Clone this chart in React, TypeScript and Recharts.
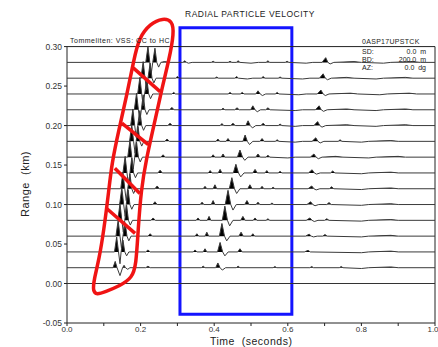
import {
  ComposedChart,
  Line,
  Area,
  XAxis,
  YAxis,
  ReferenceLine,
  ReferenceArea,
} from "recharts";

// trace baselines (km)
const ranges = [0.02, 0.04, 0.06, 0.08, 0.1, 0.12, 0.14, 0.16, 0.18, 0.2, 0.22, 0.24, 0.26, 0.28];

// picked wiggles per trace: [time (s), amplitude (m)]
const trace02 = [[0,0],[0.125,0],[0.131,8],[0.136,0],[0.144,-10],[0.151,0],[0.155,3],[0.159,0],[0.165,-2],[0.171,0],[0.214,0],[0.22,2],[0.226,0],[0.365,0],[0.37,2],[0.375,0],[0.404,0],[0.41,6],[0.416,0],[0.422,-3],[0.431,0],[0.46,0],[0.465,2],[0.47,0],[0.56,0],[0.565,1.5],[0.57,0],[0.66,0],[0.665,1.5],[0.67,0],[0.74,0],[0.745,1.5],[0.75,0],[0.8,-1],[0.82,0],[0.88,1],[0.9,0],[1,0]];
const trace04 = [[0,0],[0.129,0],[0.135,19],[0.14,0],[0.144,-15],[0.147,0],[0.152,15],[0.157,0],[0.162,-5],[0.168,0],[0.214,0],[0.22,2.5],[0.226,0],[0.343,0],[0.348,2.5],[0.353,0],[0.37,0],[0.375,4],[0.38,0],[0.409,0],[0.416,12],[0.423,0],[0.429,-5],[0.438,0],[0.464,0],[0.47,4],[0.476,0],[0.645,0],[0.655,2],[0.661,0],[0.8,-1],[0.82,0],[0.88,1],[0.9,0],[1,0]];
const trace06 = [[0,0],[0.133,0],[0.139,20],[0.144,0],[0.148,-15],[0.152,0],[0.158,17],[0.163,0],[0.168,-6],[0.174,0],[0.22,0],[0.226,3],[0.232,0],[0.348,0],[0.353,3],[0.358,0],[0.375,0],[0.38,5],[0.385,0],[0.414,0],[0.421,16],[0.428,0],[0.434,-6],[0.443,0],[0.467,0],[0.473,5],[0.479,0],[0.5,0],[0.505,3],[0.51,0],[0.648,0],[0.658,2.5],[0.664,0],[0.67,-1],[0.68,0],[0.695,0],[0.701,2],[0.707,0],[0.8,-1],[0.82,0],[0.88,1],[0.9,0],[1,0]];
const trace08 = [[0,0],[0.138,0],[0.144,21],[0.149,0],[0.153,-15],[0.157,0],[0.162,19],[0.167,0],[0.172,-6],[0.178,0],[0.228,0],[0.234,3],[0.24,0],[0.351,0],[0.356,3],[0.361,0],[0.381,0],[0.386,5],[0.391,0],[0.422,0],[0.429,18],[0.436,0],[0.442,-7],[0.451,0],[0.472,0],[0.478,5],[0.484,0],[0.506,0],[0.511,3],[0.516,0],[0.541,0],[0.546,2],[0.551,0],[0.65,0],[0.66,3],[0.666,0],[0.672,-1.5],[0.682,0],[0.7,0],[0.706,2],[0.712,0],[0.8,-1],[0.82,0],[0.88,1],[0.9,0],[1,0]];
const trace10 = [[0,0],[0.143,0],[0.149,21],[0.154,0],[0.158,-15],[0.161,0],[0.166,19],[0.171,0],[0.176,-6],[0.182,0],[0.233,0],[0.239,3.5],[0.245,0],[0.362,0],[0.367,3],[0.372,0],[0.392,0],[0.397,5],[0.402,0],[0.43,0],[0.4375,18],[0.445,0],[0.451,-7],[0.46,0],[0.483,0],[0.489,5],[0.495,0],[0.514,0],[0.519,3],[0.524,0],[0.552,0],[0.557,2],[0.562,0],[0.652,0],[0.662,3.5],[0.668,0],[0.674,-1.5],[0.684,0],[0.706,0],[0.712,2.5],[0.718,0],[0.8,-1],[0.82,0],[0.88,1],[0.9,0],[1,0]];
const trace12 = [[0,0],[0.146,0],[0.152,21],[0.157,0],[0.161,-15],[0.165,0],[0.171,19],[0.176,0],[0.181,-6],[0.187,0],[0.239,0],[0.245,3.5],[0.251,0],[0.37,0],[0.375,3],[0.38,0],[0.397,0],[0.402,5],[0.407,0],[0.441,0],[0.448,14],[0.455,0],[0.461,-6],[0.47,0],[0.491,0],[0.497,5],[0.503,0],[0.525,0],[0.53,3],[0.535,0],[0.555,0],[0.56,2],[0.565,0],[0.655,0],[0.665,3.5],[0.671,0],[0.677,-1.5],[0.687,0],[0.713,0],[0.719,2.5],[0.725,0],[0.8,-1],[0.82,0],[0.88,1],[0.9,0],[1,0]];
const trace14 = [[0,0],[0.152,0],[0.158,21],[0.163,0],[0.167,-15],[0.171,0],[0.176,19],[0.181,0],[0.186,-6],[0.192,0],[0.247,0],[0.253,3.5],[0.259,0],[0.384,0],[0.389,3],[0.394,0],[0.411,0],[0.416,4.5],[0.421,0],[0.452,0],[0.459,11],[0.466,0],[0.472,-5],[0.481,0],[0.505,0],[0.511,4.5],[0.517,0],[0.538,0],[0.543,3],[0.548,0],[0.574,0],[0.579,2],[0.584,0],[0.656,0],[0.666,4],[0.672,0],[0.678,-1.5],[0.688,0],[0.716,0],[0.722,2.5],[0.728,0],[0.8,-1],[0.82,0],[0.88,1],[0.9,0],[1,0]];
const trace16 = [[0,0],[0.165,0],[0.171,21],[0.176,0],[0.18,-15],[0.184,0],[0.189,19],[0.194,0],[0.199,-6],[0.205,0],[0.255,0],[0.261,3],[0.267,0],[0.392,0],[0.397,3],[0.402,0],[0.419,0],[0.424,4],[0.429,0],[0.463,0],[0.47,9],[0.477,0],[0.483,-4],[0.492,0],[0.513,0],[0.519,4],[0.525,0],[0.541,0],[0.546,2.5],[0.551,0],[0.6,-1],[0.62,0],[0.661,0],[0.671,4],[0.677,0],[0.683,-2],[0.693,0],[0.73,1],[0.75,0],[0.82,-1],[0.84,0],[0.9,1],[0.92,0],[1,0]];
const trace18 = [[0,0],[0.17,0],[0.176,21],[0.181,0],[0.185,-15],[0.188,0],[0.193,19],[0.198,0],[0.203,-6],[0.209,0],[0.266,0],[0.272,3],[0.278,0],[0.405,0],[0.41,3],[0.415,0],[0.432,0],[0.4375,3.5],[0.443,0],[0.478,0],[0.484,8],[0.49,0],[0.496,-4],[0.505,0],[0.524,0],[0.53,3.5],[0.536,0],[0.566,0],[0.571,2],[0.576,0],[0.62,-1],[0.64,0],[0.666,0],[0.676,4.5],[0.682,0],[0.688,-2],[0.698,0],[0.737,0],[0.742,2],[0.747,0],[0.8,-1],[0.82,0],[0.88,1],[0.9,0],[1,0]];
const trace20 = [[0,0],[0.173,0],[0.179,21],[0.184,0],[0.188,-15],[0.192,0],[0.198,19],[0.203,0],[0.208,-6],[0.214,0],[0.274,0],[0.28,3],[0.286,0],[0.416,0],[0.421,2.5],[0.426,0],[0.445,0],[0.451,3],[0.457,0],[0.486,0],[0.492,6],[0.498,0],[0.504,-3],[0.513,0],[0.527,0],[0.533,3],[0.539,0],[0.574,0],[0.579,2],[0.584,0],[0.62,-1],[0.64,0],[0.671,0],[0.681,5],[0.687,0],[0.693,-2],[0.703,0],[0.76,1],[0.78,0],[0.84,-1],[0.86,0],[0.92,1],[0.94,0],[1,0]];
const trace22 = [[0,0],[0.183,0],[0.189,21],[0.194,0],[0.198,-15],[0.202,0],[0.207,19],[0.212,0],[0.217,-6],[0.223,0],[0.279,0],[0.285,3],[0.291,0],[0.419,0],[0.424,2],[0.429,0],[0.456,0],[0.462,2.5],[0.468,0],[0.499,0],[0.505,5],[0.511,0],[0.517,-2.5],[0.526,0],[0.54,0],[0.546,2.5],[0.552,0],[0.62,-1],[0.64,0],[0.675,0],[0.685,5],[0.691,0],[0.697,-2],[0.707,0],[0.76,1],[0.78,0],[0.84,-1],[0.86,0],[0.92,1],[0.94,0],[1,0]];
const trace24 = [[0,0],[0.192,0],[0.198,21],[0.203,0],[0.207,-15],[0.211,0],[0.217,19],[0.222,0],[0.227,-6],[0.233,0],[0.285,0],[0.29,2],[0.295,0],[0.438,0],[0.443,2],[0.448,0],[0.471,0],[0.476,2],[0.481,0],[0.513,0],[0.519,4],[0.525,0],[0.531,-2],[0.54,0],[0.566,0],[0.571,2],[0.576,0],[0.63,-1],[0.65,0],[0.68,0],[0.69,5],[0.696,0],[0.702,-2],[0.712,0],[0.77,1],[0.79,0],[0.85,-1],[0.87,0],[0.93,1],[0.95,0],[1,0]];
const trace26 = [[0,0],[0.201,0],[0.207,21],[0.212,0],[0.216,-15],[0.22,0],[0.226,19],[0.231,0],[0.236,-6],[0.242,0],[0.295,0],[0.3,2],[0.305,0],[0.402,0],[0.407,1.5],[0.412,0],[0.456,0],[0.461,2],[0.466,0],[0.49,-1],[0.505,0],[0.528,0],[0.533,2],[0.538,0],[0.574,0],[0.579,1.5],[0.584,0],[0.64,-1],[0.66,0],[0.686,0],[0.696,5.5],[0.702,0],[0.708,-2],[0.718,0],[0.76,1],[0.78,0],[0.84,-1],[0.86,0],[0.92,1],[0.94,0],[1,0]];
const trace28 = [[0,0],[0.214,0],[0.22,20],[0.225,0],[0.229,-14],[0.233,0],[0.239,18],[0.244,0],[0.249,-6],[0.255,0],[0.265,1],[0.28,0],[0.315,0],[0.32,2],[0.325,0],[0.33,-1],[0.34,0],[0.392,0],[0.397,1.5],[0.402,0],[0.438,0],[0.443,1.5],[0.448,0],[0.46,0],[0.465,2],[0.47,0],[0.5,-1],[0.52,0],[0.541,0],[0.546,2],[0.551,0],[0.593,0],[0.598,1.5],[0.603,0],[0.65,-1],[0.668,0],[0.693,0],[0.703,6],[0.709,0],[0.715,-2],[0.725,0],[0.78,1],[0.8,0],[0.86,-1],[0.88,0],[0.94,1],[0.96,0],[1,0]];

const traces = [trace02, trace04, trace06, trace08, trace10, trace12, trace14, trace16, trace18, trace20, trace22, trace24, trace26, trace28];

// hand-drawn red outline around the first arrivals: [time, range]
const outline = [[0.2255,0.3288],[0.2609,0.3363],[0.2856,0.3326],[0.291,0.3179],[0.2775,0.2836],[0.2584,0.248],[0.2367,0.201],[0.215,0.1566],[0.2014,0.1185],[0.1932,0.0677],[0.1878,0.0232],[0.1769,0.0073],[0.144,-0.0029],[0.1033,-0.0105],[0.0805,-0.0143],[0.0704,-0.0095],[0.0731,0.0042],[0.0867,0.0296],[0.1003,0.0677],[0.1138,0.1185],[0.122,0.1528],[0.141,0.1947],[0.1628,0.2392],[0.1818,0.2836],[0.1954,0.311]];
const slashes = [
  [[0.18, 0.273], [0.253, 0.243]],
  [[0.149, 0.203], [0.221, 0.176]],
  [[0.13, 0.146], [0.198, 0.114]],
  [[0.108, 0.095], [0.185, 0.0635]],
];
// blue box: time and range limits
const boxT = [0.307, 0.611];
const boxR = [-0.039, 0.324];

const xTicks = [0, 0.1, 0.2, 0.3, 0.4, 0.5, 0.6, 0.7, 0.8, 0.9, 1];
const yTicks = [-0.05, 0, 0.05, 0.1, 0.15, 0.2, 0.25, 0.3];
const xLabels = ["0.0", "", "0.2", "", "0.4", "", "0.6", "", "0.8", "", "1.0"];

const info = [
  ["SD:", "0.0  m"],
  ["BD:", "200.0  m"],
  ["AZ:", "0.0  dg"],
];

const font = "'Liberation Sans', Arial, sans-serif";

export default function App() {
  const outlineData = outline.map(([t, y]) => ({ t, y }));
  return (
    <div style={{ position: "absolute", left: 0, top: 0, width: 438, height: 347, background: "#fff", fontFamily: font, color: "#222" }}>
      <ComposedChart width={438} height={347} margin={{ top: 15, right: 3, bottom: 0, left: 0 }}>
        <XAxis
          type="number"
          dataKey="t"
          domain={[0, 1]}
          ticks={xTicks}
          tickFormatter={(v: number) => xLabels[Math.round(v * 10)]}
          height={24}
          tickSize={3}
          tickMargin={0}
          stroke="#222"
          tick={{ fontSize: 8, fill: "#333", fontFamily: font }}
        />
        <YAxis
          type="number"
          domain={[-0.05, 0.34]}
          ticks={yTicks}
          tickFormatter={(v: number) => v.toFixed(2)}
          width={67}
          axisLine={false}
          tickSize={3}
          tickMargin={2}
          stroke="#222"
          tick={{ fontSize: 8.5, fill: "#333", fontFamily: font }}
        />
        <ReferenceLine segment={[{ x: 0, y: -0.05 }, { x: 0, y: 0.3 }]} stroke="#222" />
        <ReferenceLine segment={[{ x: 0, y: 0.3 }, { x: 1, y: 0.3 }]} stroke="#222" />
        <ReferenceLine segment={[{ x: 1, y: -0.05 }, { x: 1, y: 0.3 }]} stroke="#222" />
        <ReferenceLine segment={[{ x: 0, y: 0 }, { x: 1, y: 0 }]} stroke="#333" />
        {traces.map((tr, i) => {
          const r = ranges[i];
          const fill = tr.map(([t, a]) => ({ t, y: r + Math.max(a, 0) / 1000 }));
          const line = tr.map(([t, a]) => ({ t, y: r + a / 1000 }));
          return [
            <Area
              key={"a" + i}
              data={fill}
              dataKey="y"
              type="linear"
              baseValue={r}
              stroke="none"
              fill="#000"
              fillOpacity={1}
              dot={false}
              activeDot={false}
              isAnimationActive={false}
            />,
            <Line
              key={"l" + i}
              data={line}
              dataKey="y"
              type="linear"
              stroke="#3a3a3a"
              strokeWidth={1}
              dot={false}
              activeDot={false}
              isAnimationActive={false}
            />,
          ];
        })}
        <ReferenceArea
          x1={boxT[0]}
          x2={boxT[1]}
          y1={boxR[0]}
          y2={boxR[1]}
          fill="none"
          stroke="#1414ff"
          strokeWidth={3}
          ifOverflow="visible"
        />
        <Line
          data={outlineData}
          dataKey="y"
          type="basisClosed"
          stroke="#f01414"
          strokeWidth={3.5}
          dot={false}
          activeDot={false}
          isAnimationActive={false}
        />
        {slashes.map((s, i) => (
          <ReferenceLine
            key={"s" + i}
            segment={[{ x: s[0][0], y: s[0][1] }, { x: s[1][0], y: s[1][1] }]}
            stroke="#f01414"
            strokeWidth={3.5}
            ifOverflow="visible"
          />
        ))}
      </ComposedChart>
      <div style={{ position: "absolute", left: 185, top: 10, fontSize: 8.5, letterSpacing: 0.5, lineHeight: 1, whiteSpace: "nowrap" }}>
        RADIAL PARTICLE VELOCITY
      </div>
      <div style={{ position: "absolute", left: 70, top: 37, fontSize: 7, letterSpacing: 0.5, lineHeight: 1, whiteSpace: "nowrap" }}>
        Tommeliten: VSS: CC to HC
      </div>
      <div style={{ position: "absolute", left: 362, top: 38, fontSize: 7, letterSpacing: 0.3, lineHeight: 1, whiteSpace: "nowrap" }}>
        0ASP17UPSTCK
      </div>
      {info.map(([k, v], i) => (
        <div key={k} style={{ position: "absolute", left: 362, top: 48 + i * 8, width: 64, fontSize: 7, lineHeight: 1, display: "flex", justifyContent: "space-between", whiteSpace: "pre" }}>
          <span>{k}</span>
          <span>{v}</span>
        </div>
      ))}
      <div style={{ position: "absolute", left: 25, top: 184, transform: "translate(-50%, -50%) rotate(-90deg)", fontSize: 11, letterSpacing: 0.5, lineHeight: 1, whiteSpace: "pre" }}>
        Range  (km)
      </div>
      <div style={{ position: "absolute", left: 210, top: 336, fontSize: 10.5, letterSpacing: 0.5, lineHeight: 1, whiteSpace: "pre" }}>
        Time  (seconds)
      </div>
    </div>
  );
}
